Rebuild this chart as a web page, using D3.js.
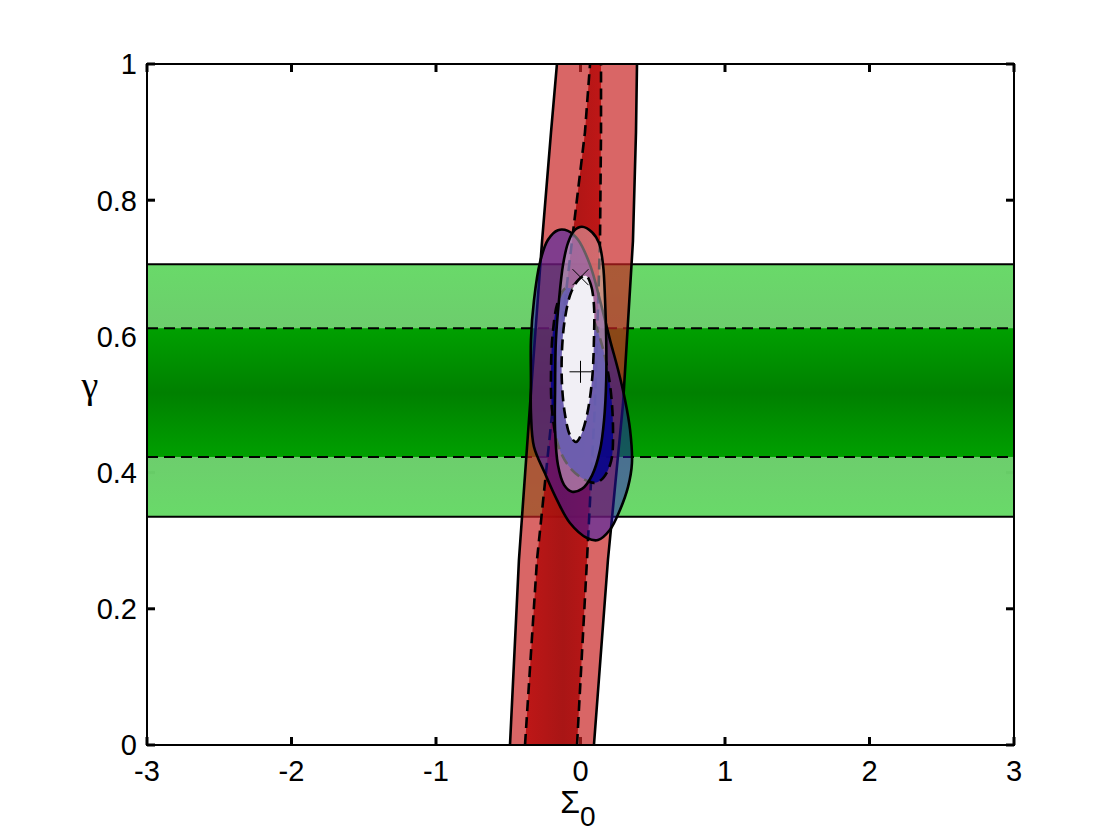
<!DOCTYPE html>
<html>
<head>
<meta charset="utf-8">
<script src="https://cdn.jsdelivr.net/npm/d3@7"></script>
<style>
  body { margin: 0; background: #fff; }
  .tick-label { font-family: "Liberation Sans", Arial, sans-serif; font-size: 29px; fill: #000; }
</style>
</head>
<body>
<svg id="chart" width="1120" height="840"></svg>
<script>
// axis ticks
var xTicks = [-3, -2, -1, 0, 1, 2, 3];
var yTicks = [0, 0.2, 0.4, 0.6, 0.8, 1];

// green band (gamma limits): outer = 2 sigma, inner = 1 sigma
var greenOuter = [0.335, 0.706];
var greenInner = [0.423, 0.612];

// red band edges, read at these gamma levels
var redGamma     = [0, 0.272, 0.5, 0.74, 0.9, 1.0];
var redOuterLeft = [-0.488, -0.426, -0.349, -0.266, -0.204, -0.163];
var redOuterRight= [0.093, 0.19, 0.294, 0.363, 0.384, 0.391];
var redInnerLeft = [-0.384, -0.301, -0.19, -0.059, 0.031, 0.066];
var redInnerRight= [-0.024, 0.045, 0.1, 0.135, 0.142, 0.142];

// blue contours [sigma0, gamma]
var blueOuter = [[-0.156,0.756],[-0.087,0.755],[-0.017,0.742],[0.066,0.705],[0.135,0.653],[0.204,0.595],
  [0.26,0.551],[0.308,0.507],[0.343,0.463],[0.356,0.414],[0.329,0.379],[0.273,0.345],[0.204,0.316],
  [0.121,0.301],[0.045,0.304],[-0.073,0.326],[-0.163,0.36],[-0.246,0.399],[-0.322,0.438],[-0.343,0.488],
  [-0.343,0.536],[-0.343,0.595],[-0.322,0.653],[-0.28,0.709],[-0.225,0.742]];
var blueInner = [[-0.1,0.671],[-0.017,0.664],[0.066,0.636],[0.149,0.587],[0.204,0.529],[0.225,0.463],
  [0.211,0.416],[0.156,0.392],[0.1,0.385],[0.01,0.392],[-0.087,0.411],[-0.156,0.441],[-0.197,0.492],
  [-0.204,0.551],[-0.19,0.609],[-0.156,0.651]];

// pink/white contours
var pinkOuter = [[0.01,0.761],[0.08,0.753],[0.128,0.737],[0.156,0.705],[0.17,0.653],[0.178,0.595],
  [0.178,0.536],[0.163,0.477],[0.135,0.433],[0.08,0.396],[0.01,0.376],[-0.059,0.372],[-0.114,0.382],
  [-0.156,0.411],[-0.176,0.463],[-0.176,0.521],[-0.17,0.595],[-0.149,0.653],[-0.121,0.705],
  [-0.087,0.737],[-0.045,0.755]];
var pinkInner = [[0.038,0.689],[0.073,0.675],[0.093,0.646],[0.093,0.595],[0.08,0.536],[0.045,0.485],
  [0.003,0.455],[-0.031,0.445],[-0.073,0.455],[-0.107,0.485],[-0.128,0.529],[-0.128,0.58],
  [-0.107,0.627],[-0.066,0.664],[-0.01,0.684]];

// best-fit markers
var crossMark = [0.0, 0.687];
var plusMark = [0.0, 0.548];

var svg = d3.select("#chart"),
    margin = {top: 64, right: 106, bottom: 95, left: 147},
    width = +svg.attr("width") - margin.left - margin.right,
    height = +svg.attr("height") - margin.top - margin.bottom,
    g = svg.append("g").attr("transform", "translate(" + margin.left + "," + margin.top + ")");

var x = d3.scaleLinear().domain([-3, 3]).range([0, width]),
    y = d3.scaleLinear().domain([0, 1]).range([height, 0]);

var lw = 2.6, dash = "11,6";

var defs = svg.append("defs");
defs.append("clipPath").attr("id", "plotclip")
  .append("rect").attr("width", width).attr("height", height);

function vgrad(id, stops) {
  var gr = defs.append("linearGradient").attr("id", id)
    .attr("x1", 0).attr("y1", 0).attr("x2", 0).attr("y2", 1);
  stops.forEach(function(s) { gr.append("stop").attr("offset", s[0]).attr("stop-color", s[1]); });
}
vgrad("gOuter", [[0, "#66d966"], [0.25, "#6acc6a"], [0.5, "#6acc6a"], [0.75, "#6acc6a"], [1, "#66d966"]]);
vgrad("gInner", [[0, "#00a000"], [0.5, "#008000"], [1, "#00a000"]]);
var rg = defs.append("linearGradient").attr("id", "rInner")
  .attr("x1", 0).attr("y1", 0).attr("x2", 1).attr("y2", 0);
rg.append("stop").attr("offset", 0).attr("stop-color", "#bb0c0c");
rg.append("stop").attr("offset", 0.5).attr("stop-color", "#a20a0a");
rg.append("stop").attr("offset", 1).attr("stop-color", "#bb0c0c");

// ticks (drawn under the patches, like the original)
var ticks = g.append("g").attr("stroke", "#000").attr("stroke-width", 3);
yTicks.forEach(function(t) {
  ticks.append("line").attr("x1", 0).attr("x2", 8).attr("y1", y(t)).attr("y2", y(t));
  ticks.append("line").attr("x1", width - 8).attr("x2", width).attr("y1", y(t)).attr("y2", y(t));
});
xTicks.forEach(function(t) {
  ticks.append("line").attr("x1", x(t)).attr("x2", x(t)).attr("y1", height).attr("y2", height - 8);
  ticks.append("line").attr("x1", x(t)).attr("x2", x(t)).attr("y1", 0).attr("y2", 8);
});

var plot = g.append("g").attr("clip-path", "url(#plotclip)");

// green band
plot.append("rect")
  .attr("x", 0).attr("width", width)
  .attr("y", y(greenOuter[1])).attr("height", y(greenOuter[0]) - y(greenOuter[1]))
  .attr("fill", "url(#gOuter)").attr("opacity", 0.98);
plot.append("rect")
  .attr("x", 0).attr("width", width)
  .attr("y", y(greenInner[1])).attr("height", y(greenInner[0]) - y(greenInner[1]))
  .attr("fill", "url(#gInner)");
greenOuter.forEach(function(v) {
  plot.append("line").attr("x1", 0).attr("x2", width).attr("y1", y(v)).attr("y2", y(v))
    .attr("stroke", "#000").attr("stroke-width", 2);
});
greenInner.forEach(function(v) {
  plot.append("line").attr("x1", 0).attr("x2", width).attr("y1", y(v)).attr("y2", y(v))
    .attr("stroke", "#000").attr("stroke-width", 2).attr("stroke-dasharray", dash);
});

// red band
var edge = d3.line().x(function(d) { return x(d[0]); }).y(function(d) { return y(d[1]); });
function pts(xs) { return xs.map(function(v, i) { return [v, redGamma[i]]; }); }
function band(l, r) { return pts(l).concat(pts(r).reverse()); }

plot.append("path").attr("d", edge(band(redOuterLeft, redOuterRight)) + "Z")
  .attr("fill", "rgb(200,33,33)").attr("fill-opacity", 0.69);
plot.append("path").attr("d", edge(band(redInnerLeft, redInnerRight)) + "Z")
  .attr("fill", "url(#rInner)").attr("fill-opacity", 0.88);
[redOuterLeft, redOuterRight].forEach(function(e) {
  plot.append("path").attr("d", edge(pts(e))).attr("fill", "none")
    .attr("stroke", "#000").attr("stroke-width", lw);
});
[redInnerLeft, redInnerRight].forEach(function(e) {
  plot.append("path").attr("d", edge(pts(e))).attr("fill", "none")
    .attr("stroke", "#000").attr("stroke-width", lw).attr("stroke-dasharray", dash);
});

// contours
var blob = d3.line().curve(d3.curveCatmullRomClosed.alpha(0.5))
  .x(function(d) { return x(d[0]); }).y(function(d) { return y(d[1]); });

plot.append("path").attr("d", blob(blueOuter))
  .attr("fill", "rgb(40,20,180)").attr("fill-opacity", 0.5)
  .attr("stroke", "#000").attr("stroke-width", lw);
plot.append("path").attr("d", blob(blueInner))
  .attr("fill", "rgb(0,0,140)").attr("fill-opacity", 0.85)
  .attr("stroke", "#000").attr("stroke-width", lw).attr("stroke-dasharray", dash);
plot.append("path").attr("d", blob(pinkOuter))
  .attr("fill", "rgb(240,222,232)").attr("fill-opacity", 0.42)
  .attr("stroke", "#000").attr("stroke-width", lw);
plot.append("path").attr("d", blob(pinkInner))
  .attr("fill", "#f1eff5")
  .attr("stroke", "#000").attr("stroke-width", lw).attr("stroke-dasharray", dash);

// markers
var cx = x(crossMark[0]), cy = y(crossMark[1]);
plot.append("path").attr("d", "M" + (cx - 8) + "," + (cy - 8) + "L" + (cx + 8) + "," + (cy + 8) +
    "M" + (cx - 8) + "," + (cy + 8) + "L" + (cx + 8) + "," + (cy - 8))
  .attr("stroke", "#000").attr("stroke-width", 1);
var px = x(plusMark[0]), py = y(plusMark[1]);
plot.append("path").attr("d", "M" + (px - 11) + "," + py + "L" + (px + 11) + "," + py +
    "M" + px + "," + (py - 11) + "L" + px + "," + (py + 11))
  .attr("stroke", "#000").attr("stroke-width", 1);

// box
g.append("rect").attr("width", width).attr("height", height)
  .attr("fill", "none").attr("stroke", "#000").attr("stroke-width", 2);

// tick labels
g.selectAll(".ylab").data(yTicks).enter().append("text")
  .attr("class", "tick-label")
  .attr("x", -10).attr("y", function(d) { return y(d); }).attr("dy", "0.36em")
  .attr("text-anchor", "end")
  .text(function(d) { return d3.format("")(d); });
g.selectAll(".xlab").data(xTicks).enter().append("text")
  .attr("class", "tick-label")
  .attr("x", function(d) { return x(d); }).attr("y", height + 36)
  .attr("text-anchor", "middle")
  .text(function(d) { return d; });

// axis titles
svg.append("text").attr("x", 90).attr("y", 398)
  .attr("text-anchor", "middle")
  .style("font-family", "'Liberation Serif', 'DejaVu Serif', serif").style("font-size", "38px")
  .text("γ");
var xt = svg.append("text").attr("x", 578).attr("y", 813)
  .attr("text-anchor", "middle")
  .style("font-family", "'Liberation Sans', Arial, sans-serif").style("font-size", "32px");
xt.append("tspan").text("Σ");
xt.append("tspan").attr("dy", 13).style("font-size", "28px").text("0");
</script>
</body>
</html>
